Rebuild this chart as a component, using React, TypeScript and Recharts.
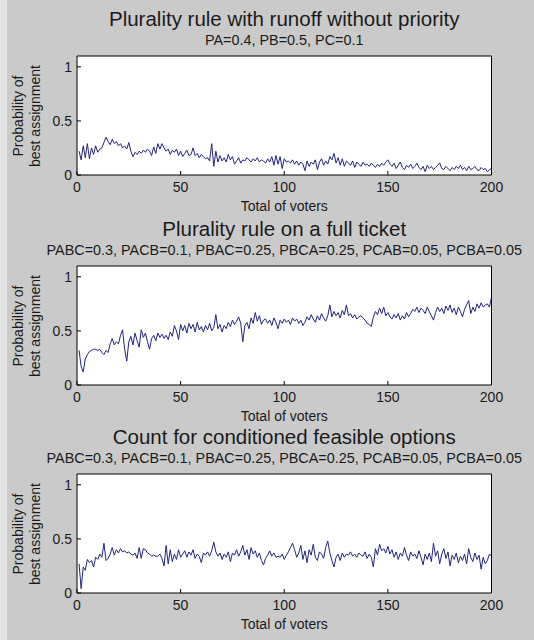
import { LineChart, Line, XAxis, YAxis, CartesianGrid } from 'recharts';

// x tick labels and y tick labels
const voterTicks = [0, 50, 100, 150, 200];
const probTicks = [0, 0.5, 1];

// Plurality rule with runoff without priority (voters 1..200)
const runoffProb = [
    0.22, 0.14, 0.27, 0.16, 0.29, 0.15, 0.25, 0.19, 0.27, 0.21,
    0.24, 0.25, 0.30, 0.35, 0.31, 0.28, 0.33, 0.29, 0.31, 0.27,
    0.29, 0.25, 0.27, 0.24, 0.30, 0.22, 0.17, 0.21, 0.19, 0.22,
    0.20, 0.23, 0.21, 0.24, 0.22, 0.18, 0.26, 0.20, 0.29, 0.24,
    0.29, 0.25, 0.22, 0.24, 0.19, 0.23, 0.21, 0.24, 0.18, 0.22,
    0.17, 0.20, 0.23, 0.18, 0.19, 0.25, 0.18, 0.20, 0.16, 0.19,
    0.17, 0.15, 0.16, 0.13, 0.29, 0.08, 0.22, 0.12, 0.18, 0.13,
    0.16, 0.12, 0.19, 0.14, 0.17, 0.10, 0.13, 0.16, 0.11, 0.14,
    0.13, 0.16, 0.14, 0.12, 0.15, 0.13, 0.16, 0.12, 0.14, 0.13,
    0.11, 0.15, 0.12, 0.17, 0.09, 0.18, 0.10, 0.17, 0.06, 0.15,
    0.12, 0.13, 0.11, 0.14, 0.10, 0.13, 0.09, 0.12, 0.10, 0.04,
    0.13, 0.08, 0.12, 0.10, 0.14, 0.05, 0.12, 0.15, 0.09, 0.13,
    0.10, 0.17, 0.14, 0.20, 0.11, 0.16, 0.09, 0.15, 0.08, 0.13,
    0.11, 0.09, 0.13, 0.07, 0.12, 0.10, 0.08, 0.12, 0.09, 0.10,
    0.08, 0.11, 0.09, 0.07, 0.10, 0.08, 0.11, 0.09, 0.12, 0.14,
    0.10, 0.08, 0.11, 0.06, 0.09, 0.12, 0.07, 0.05, 0.09, 0.07,
    0.10, 0.06, 0.08, 0.11, 0.07, 0.05, 0.08, 0.03, 0.09, 0.06,
    0.08, 0.05, 0.07, 0.09, 0.11, 0.06, 0.05, 0.08, 0.06, 0.04,
    0.07, 0.05, 0.08, 0.06, 0.09, 0.05, 0.07, 0.04, 0.08, 0.05,
    0.06, 0.08, 0.05, 0.04, 0.07, 0.05, 0.06, 0.03, 0.05, 0.06,
];

// Plurality rule on a full ticket
const fullTicketProb = [
    0.32, 0.17, 0.12, 0.24, 0.28, 0.31, 0.32, 0.33, 0.33, 0.32,
    0.33, 0.30, 0.28, 0.32, 0.30, 0.38, 0.43, 0.37, 0.40, 0.38,
    0.46, 0.51, 0.33, 0.22, 0.40, 0.45, 0.37, 0.48, 0.41, 0.35,
    0.51, 0.44, 0.48, 0.40, 0.33, 0.43, 0.46, 0.41, 0.48, 0.44,
    0.47, 0.43, 0.46, 0.42, 0.49, 0.45, 0.55, 0.50, 0.42, 0.56,
    0.50, 0.55, 0.48, 0.57, 0.52, 0.56, 0.49, 0.58, 0.51, 0.54,
    0.49, 0.55, 0.51, 0.57, 0.50, 0.53, 0.65, 0.52, 0.56, 0.49,
    0.55, 0.52, 0.58, 0.54, 0.60, 0.56, 0.59, 0.63, 0.57, 0.40,
    0.55, 0.58, 0.52, 0.62, 0.57, 0.67, 0.59, 0.64, 0.56, 0.60,
    0.61, 0.57, 0.60, 0.55, 0.62, 0.58, 0.52, 0.60, 0.57, 0.61,
    0.58, 0.60, 0.56, 0.62, 0.59, 0.61, 0.57, 0.60, 0.55, 0.58,
    0.63, 0.60, 0.65, 0.61, 0.58, 0.64, 0.60, 0.66, 0.62, 0.59,
    0.64, 0.74, 0.63, 0.68, 0.64, 0.67, 0.62, 0.69, 0.65, 0.74,
    0.64, 0.66, 0.62, 0.65, 0.61, 0.63, 0.64, 0.62, 0.60, 0.57,
    0.56, 0.54, 0.63, 0.68, 0.65, 0.71, 0.66, 0.72, 0.64, 0.67,
    0.63, 0.61, 0.65, 0.62, 0.66, 0.60, 0.64, 0.61, 0.67, 0.63,
    0.66, 0.70, 0.68, 0.72, 0.67, 0.71, 0.69, 0.66, 0.72, 0.68,
    0.64, 0.60, 0.67, 0.72, 0.68, 0.71, 0.66, 0.73, 0.69, 0.74,
    0.67, 0.71, 0.65, 0.72, 0.68, 0.63, 0.70, 0.74, 0.78, 0.66,
    0.72, 0.68, 0.75, 0.71, 0.76, 0.72, 0.74, 0.75, 0.72, 0.81,
];

// Count for conditioned feasible options
const conditionedProb = [
    0.27, 0.04, 0.24, 0.21, 0.31, 0.28, 0.30, 0.24, 0.33, 0.31,
    0.36, 0.33, 0.46, 0.30, 0.32, 0.36, 0.42, 0.35, 0.40, 0.37,
    0.41, 0.38, 0.39, 0.37, 0.38, 0.36, 0.35, 0.37, 0.32, 0.42,
    0.32, 0.41, 0.40, 0.37, 0.36, 0.34, 0.35, 0.34, 0.34, 0.36,
    0.32, 0.25, 0.44, 0.27, 0.40, 0.29, 0.36, 0.31, 0.40, 0.33,
    0.36, 0.39, 0.33, 0.38, 0.35, 0.40, 0.32, 0.36, 0.34, 0.28,
    0.37, 0.35, 0.38, 0.34, 0.39, 0.47, 0.38, 0.34, 0.37, 0.31,
    0.36, 0.33, 0.38, 0.29, 0.37, 0.35, 0.40, 0.34, 0.38, 0.44,
    0.35, 0.40, 0.31, 0.42, 0.36, 0.39, 0.33, 0.37, 0.30, 0.26,
    0.32, 0.35, 0.39, 0.34, 0.37, 0.33, 0.34, 0.33, 0.36, 0.31,
    0.35, 0.38, 0.42, 0.46, 0.40, 0.33, 0.37, 0.44, 0.31, 0.39,
    0.28, 0.40, 0.35, 0.45, 0.33, 0.30, 0.38, 0.36, 0.32, 0.42,
    0.48, 0.37, 0.30, 0.24, 0.33, 0.36, 0.30, 0.37, 0.33, 0.36,
    0.35, 0.38, 0.34, 0.36, 0.33, 0.37, 0.35, 0.34, 0.38, 0.32,
    0.36, 0.33, 0.24, 0.41, 0.35, 0.45, 0.39, 0.41, 0.37, 0.43,
    0.36, 0.40, 0.33, 0.38, 0.31, 0.37, 0.34, 0.42, 0.35, 0.30,
    0.38, 0.34, 0.36, 0.32, 0.39, 0.33, 0.26, 0.36, 0.31, 0.37,
    0.29, 0.46, 0.34, 0.39, 0.27, 0.36, 0.41, 0.32, 0.38, 0.25,
    0.35, 0.31, 0.37, 0.28, 0.34, 0.30, 0.36, 0.27, 0.41, 0.33,
    0.29, 0.37, 0.31, 0.35, 0.22, 0.33, 0.27, 0.30, 0.36, 0.34,
];

const FONT = '"Liberation Sans", Arial, Helvetica, sans-serif';
const TEXT = '#1a1a1a';
const LINE = '#23237f';

const BOX_LEFT = 77;
const BOX_RIGHT = 491.5;
const BOX_H = 119;

interface PanelProps {
    title: string;
    subtitle: string;
    values: number[];
    boxTop: number;
}

function Panel({ title, subtitle, values, boxTop }: PanelProps) {
    const data = values.map((p, i) => ({ voters: i + 1, prob: p }));
    const midX = (BOX_LEFT + BOX_RIGHT) / 2;
    const tickStyle = { fontSize: 14, fill: TEXT, fontFamily: FONT };
    const txt = (top: number, left: number, size: number): React.CSSProperties => ({
        position: 'absolute', top, left, transform: 'translate(-50%, -50%)',
        fontSize: size, fontFamily: FONT, color: TEXT, whiteSpace: 'nowrap', lineHeight: 1,
    });

    return (
        <>
            <div style={txt(boxTop - 37, midX, 20.5)}>{title}</div>
            <div style={txt(boxTop - 16, midX, 14.4)}>{subtitle}</div>
            <div style={{
                ...txt(boxTop + BOX_H / 2, 27, 14),
                transform: 'translate(-50%, -50%) rotate(-90deg)',
                textAlign: 'center', lineHeight: '17px',
            }}>
                Probability of<br />best assignment
            </div>
            <div style={txt(boxTop + BOX_H + 31, midX, 14)}>Total of voters</div>

            <div style={{ position: 'absolute', left: 0, top: boxTop - 10 }}>
                <LineChart width={534} height={159} data={data}
                    margin={{ top: 10, right: 534 - BOX_RIGHT, left: 0, bottom: 0 }}>
                    <CartesianGrid horizontal={false} vertical={false} fill="#ffffff" />
                    {/* ticks point inward like matlab: negative size on the labelled axes, mirror on the others */}
                    <XAxis xAxisId="b" dataKey="voters" type="number" domain={[0, 200]} ticks={voterTicks}
                        interval={0} height={30} tickSize={-4} tickMargin={11}
                        axisLine={{ stroke: '#000' }} tickLine={{ stroke: '#000' }} tick={tickStyle} />
                    <XAxis xAxisId="t" orientation="top" type="number" domain={[0, 200]} ticks={voterTicks}
                        interval={0} allowDataOverflow mirror tickSize={4} tick={false}
                        axisLine={{ stroke: '#000' }} tickLine={{ stroke: '#000' }} />
                    <YAxis yAxisId="l" type="number" domain={[0, 1.1]} ticks={probTicks} interval={0}
                        width={BOX_LEFT} tickSize={-4} tickMargin={9} allowDataOverflow
                        axisLine={{ stroke: '#000' }} tickLine={{ stroke: '#000' }} tick={tickStyle} />
                    <YAxis yAxisId="r" orientation="right" type="number" domain={[0, 1.1]} ticks={probTicks}
                        interval={0} mirror tickSize={4} tick={false} allowDataOverflow
                        axisLine={{ stroke: '#000' }} tickLine={{ stroke: '#000' }} />
                    <Line xAxisId="b" yAxisId="l" type="linear" dataKey="prob" stroke={LINE} strokeWidth={1}
                        dot={false} isAnimationActive={false} />
                </LineChart>
            </div>
        </>
    );
}

export default function App() {
    return (
        <div style={{ position: 'absolute', left: 0, top: 0, width: 534, height: 640, background: '#cacaca', overflow: 'hidden' }}>
            <div style={{ position: 'absolute', left: 0, top: 0, width: 7, height: 640, background: '#e2e2e2' }} />
            <Panel title="Plurality rule with runoff without priority" subtitle="PA=0.4, PB=0.5, PC=0.1"
                values={runoffProb} boxTop={56} />
            <Panel title="Plurality rule on a full ticket"
                subtitle="PABC=0.3, PACB=0.1, PBAC=0.25, PBCA=0.25, PCAB=0.05, PCBA=0.05"
                values={fullTicketProb} boxTop={266} />
            <Panel title="Count for conditioned feasible options"
                subtitle="PABC=0.3, PACB=0.1, PBAC=0.25, PBCA=0.25, PCAB=0.05, PCBA=0.05"
                values={conditionedProb} boxTop={474} />
        </div>
    );
}
